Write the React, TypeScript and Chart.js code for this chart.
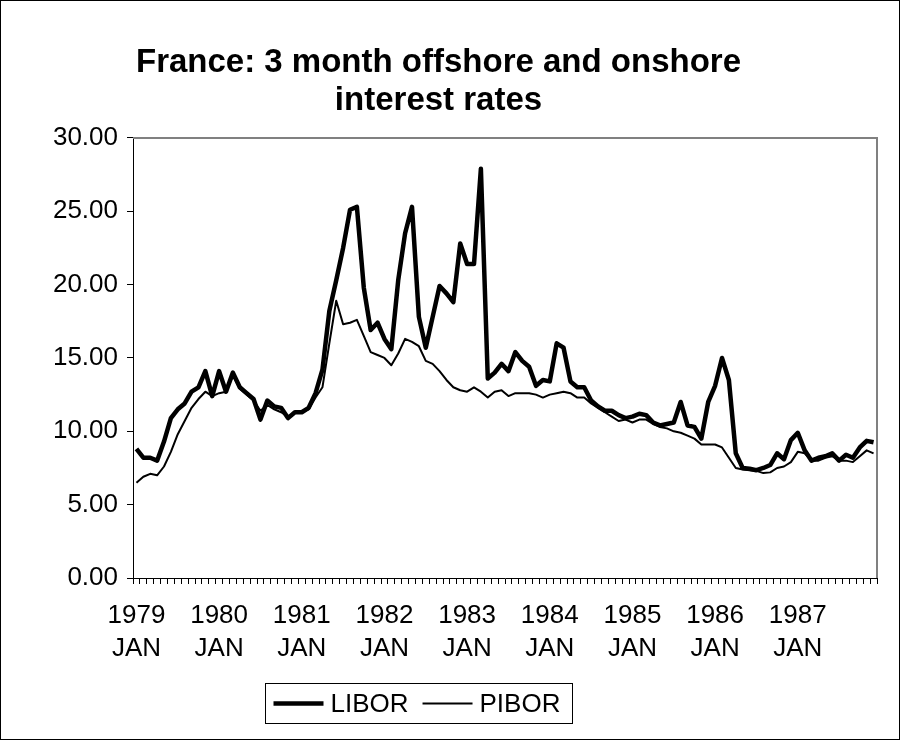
import React, { useEffect, useRef } from 'react';
import { Chart, registerables } from 'chart.js';

Chart.register(...registerables);

const FONT = '"Liberation Sans", Arial, sans-serif';

const TITLE = ['France: 3 month offshore and onshore', 'interest rates'];

const YEARS = ['1979', '1980', '1981', '1982', '1983', '1984', '1985', '1986', '1987'];
const MONTHS = ['JAN', 'FEB', 'MAR', 'APR', 'MAY', 'JUN', 'JUL', 'AUG', 'SEP', 'OCT', 'NOV', 'DEC'];

// 3 month offshore rate (LIBOR), monthly, Jan 1979 - Dec 1987
const LIBOR = [
  8.8, 8.2, 8.2, 8.0, 9.3, 10.9, 11.5, 11.9, 12.7, 13.0, 14.1, 12.4,
  14.1, 12.7, 14.0, 13.0, 12.6, 12.2, 10.8, 12.1, 11.7, 11.6, 10.9, 11.3,
  11.3, 11.6, 12.6, 14.2, 18.2, 20.3, 22.5, 25.1, 25.3, 19.8, 16.9, 17.4,
  16.3, 15.6, 20.3, 23.5, 25.3, 17.8, 15.7, 17.8, 19.9, 19.4, 18.8, 22.8,
  21.4, 21.4, 27.9, 13.6, 14.0, 14.6, 14.1, 15.4, 14.8, 14.4, 13.1, 13.5,
  13.4, 16.0, 15.7, 13.4, 13.0, 13.0, 12.1, 11.7, 11.4, 11.4, 11.1, 10.9,
  11.0, 11.2, 11.1, 10.6, 10.4, 10.5, 10.6, 12.0, 10.4, 10.3, 9.5, 12.0,
  13.1, 15.0, 13.5, 8.5, 7.5, 7.45, 7.35, 7.5, 7.7, 8.5, 8.1, 9.4,
  9.9, 8.7, 8.0, 8.2, 8.3, 8.5, 8.0, 8.4, 8.2, 8.9, 9.35, 9.25,
];

// 3 month onshore rate (PIBOR), monthly, Jan 1979 - Dec 1987
const PIBOR = [
  6.5, 6.9, 7.1, 7.0, 7.6, 8.6, 9.8, 10.7, 11.6, 12.2, 12.7, 12.4,
  12.6, 12.7, 13.8, 12.9, 12.5, 12.1, 11.4, 11.8, 11.5, 11.3, 11.0, 11.3,
  11.3, 11.5, 12.3, 13.0, 16.0, 18.9, 17.3, 17.4, 17.6, 16.5, 15.4, 15.2,
  15.0, 14.5, 15.3, 16.3, 16.1, 15.8, 14.8, 14.6, 14.1, 13.5, 13.0, 12.8,
  12.7, 13.0, 12.7, 12.3, 12.7, 12.8, 12.4, 12.6, 12.6, 12.6, 12.5, 12.3,
  12.5, 12.6, 12.7, 12.6, 12.3, 12.3, 11.9, 11.6, 11.3, 11.0, 10.7, 10.8,
  10.6, 10.8, 10.8, 10.5, 10.3, 10.2, 10.0, 9.9, 9.7, 9.5, 9.1, 9.1,
  9.1, 8.9, 8.2, 7.5, 7.4, 7.35, 7.3, 7.15, 7.2, 7.5, 7.6, 7.9,
  8.6, 8.5, 8.0, 8.0, 8.2, 8.3, 8.0, 8.0, 7.9, 8.3, 8.7, 8.5,
];

const Y_MIN = 0;
const Y_MAX = 30;
const Y_STEP = 5;

const LABELS = YEARS.flatMap((y) => MONTHS.map((m) => [y, m]));

// Frame around the whole chart, grey top/right edges of the plot area,
// and a boxed legend with line samples below the axis.
const framePlugin = {
  id: 'frameAndLegend',
  beforeDatasetsDraw(chart: any) {
    const { ctx, chartArea } = chart;
    ctx.save();
    ctx.strokeStyle = '#808080';
    ctx.lineWidth = 2;
    ctx.beginPath();
    ctx.moveTo(chartArea.left, chartArea.top);
    ctx.lineTo(chartArea.right, chartArea.top);
    ctx.lineTo(chartArea.right, chartArea.bottom);
    ctx.stroke();
    ctx.restore();
  },
  afterDraw(chart: any) {
    const { ctx, width, height } = chart;
    ctx.save();
    ctx.strokeStyle = '#000';
    ctx.lineWidth = 1;
    ctx.strokeRect(0.5, 0.5, width - 1, height - 1);

    ctx.font = `26px ${FONT}`;
    const sample = 50;
    const gapText = 7;
    const gapItem = 14;
    const padL = 8;
    const padR = 12;
    const items = chart.data.datasets.map((ds: any) => ({
      label: ds.label,
      lw: ds.borderWidth,
      tw: ctx.measureText(ds.label).width,
    }));
    let total = padL + padR + gapItem * (items.length - 1);
    items.forEach((it: any) => (total += sample + gapText + it.tw));
    const cx = 418.5;
    const top = 683;
    const h = 40;
    const left = Math.round(cx - total / 2) + 0.5;
    ctx.strokeRect(left, top + 0.5, Math.round(total), h);
    const cy = top + h / 2 + 0.5;
    let x = left + padL;
    ctx.fillStyle = '#000';
    ctx.textBaseline = 'middle';
    ctx.textAlign = 'left';
    items.forEach((it: any) => {
      ctx.lineWidth = it.lw;
      ctx.lineCap = 'butt';
      ctx.beginPath();
      ctx.moveTo(x, cy);
      ctx.lineTo(x + sample, cy);
      ctx.stroke();
      x += sample + gapText;
      ctx.fillText(it.label, x, cy + 1);
      x += it.tw + gapItem;
    });
    ctx.restore();
  },
};

export default function App() {
  const canvasRef = useRef<HTMLCanvasElement | null>(null);

  useEffect(() => {
    const canvas = canvasRef.current;
    if (!canvas) return;
    const chart = new Chart(canvas, {
      type: 'line',
      data: {
        labels: LABELS,
        datasets: [
          {
            label: 'LIBOR',
            data: LIBOR,
            borderColor: '#000',
            borderWidth: 4.5,
            borderJoinStyle: 'round',
            pointRadius: 0,
            tension: 0,
            fill: false,
          },
          {
            label: 'PIBOR',
            data: PIBOR,
            borderColor: '#000',
            borderWidth: 2,
            borderJoinStyle: 'round',
            pointRadius: 0,
            tension: 0,
            fill: false,
          },
        ],
      },
      options: {
        responsive: false,
        animation: false,
        layout: { padding: { left: 0, right: 23, top: 0, bottom: 0 } },
        plugins: {
          legend: { display: false },
          tooltip: { enabled: false },
          title: {
            display: true,
            text: TITLE,
            color: '#000',
            font: { family: FONT, size: 33, weight: 'bold', lineHeight: 1.15 },
            padding: { top: 44, bottom: 18 },
          },
        },
        scales: {
          x: {
            type: 'category',
            offset: true,
            grid: {
              offset: true,
              drawOnChartArea: false,
              drawTicks: true,
              tickLength: 6,
              color: '#000',
            },
            border: { color: '#000', width: 1 },
            ticks: {
              autoSkip: false,
              maxRotation: 0,
              minRotation: 0,
              padding: 15,
              color: '#000',
              font: { family: FONT, size: 26, lineHeight: 1.27 },
              callback: (_v: any, idx: number) => {
                const l = LABELS[idx];
                return l[1] === 'JAN' ? l : '';
              },
            },
            afterFit: (scale: any) => {
              scale.height = 162;
            },
          },
          y: {
            min: Y_MIN,
            max: Y_MAX,
            grid: {
              drawOnChartArea: false,
              drawTicks: true,
              tickLength: 6,
              color: '#000',
            },
            border: { color: '#000', width: 1 },
            ticks: {
              stepSize: Y_STEP,
              padding: 9,
              color: '#000',
              font: { family: FONT, size: 26 },
              callback: (v: any) => Number(v).toFixed(2),
            },
            afterFit: (scale: any) => {
              scale.width = 133;
            },
          },
        },
      },
      plugins: [framePlugin],
    });
    return () => chart.destroy();
  }, []);

  return (
    <div style={{ position: 'fixed', left: 0, top: 0, width: 900, height: 740, background: '#fff' }}>
      <canvas ref={canvasRef} width={900} height={740} />
    </div>
  );
}
